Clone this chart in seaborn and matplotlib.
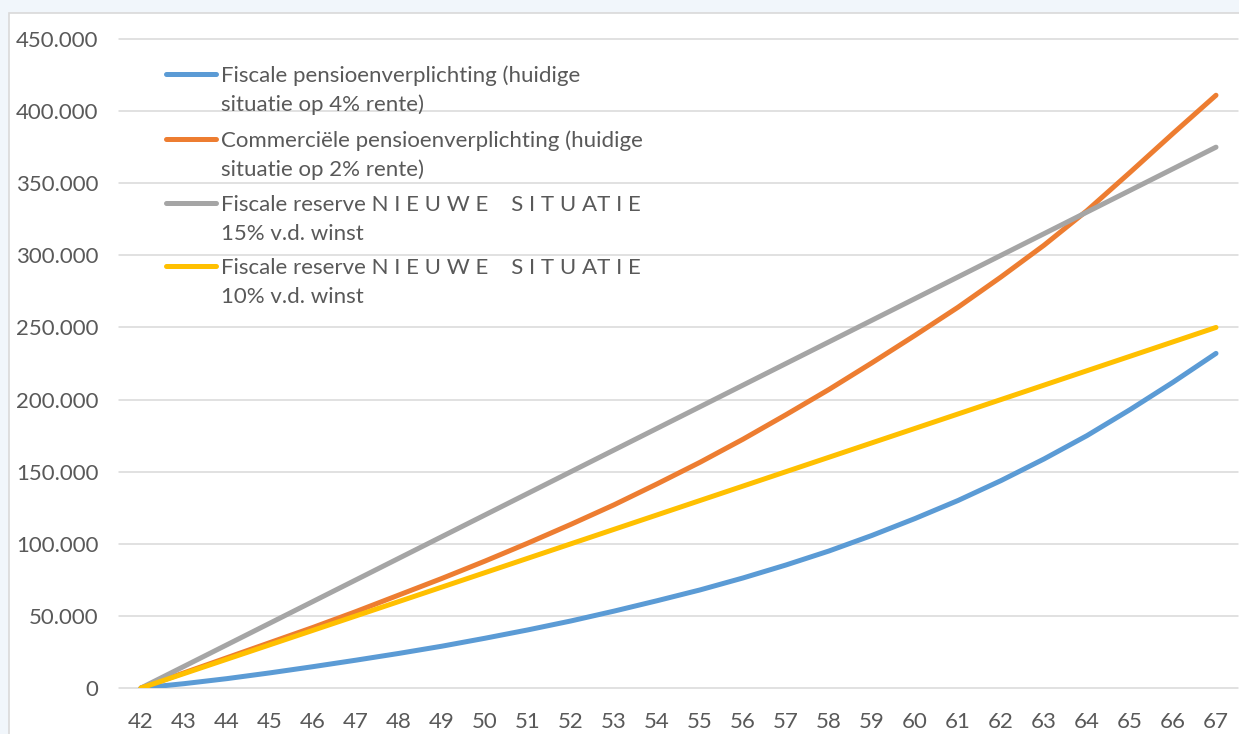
# Pension reserve chart: fiscale vs commerciele pensioenverplichting

import numpy as np
import pandas as pd
import matplotlib.pyplot as plt
import seaborn as sns
from matplotlib.patches import Rectangle
from matplotlib.ticker import FuncFormatter
from matplotlib.legend_handler import HandlerLine2D

# Data

leeftijd = list(range(42, 68))

fiscaal_4 = [0, 3000, 6500, 10500, 14800, 19300, 24000, 29000, 34500, 40300,
             46500, 53300, 60500, 68000, 76300, 85300, 95000, 105800, 117500,
             130000, 143800, 158800, 175000, 193000, 212000, 232000]

commercieel_2 = [0, 10500, 21000, 31500, 42000, 53000, 64500, 76000, 88000,
                 100500, 113500, 127000, 141500, 156500, 172500, 189500, 207000,
                 225500, 244500, 264000, 285000, 307000, 331000, 357500, 384500,
                 411000]

reserve_15 = [0, 15000, 30000, 45000, 60000, 75000, 90000, 105000, 120000,
              135000, 150000, 165000, 180000, 195000, 210000, 225000, 240000,
              255000, 270000, 285000, 300000, 315000, 330000, 345000, 360000,
              375000]

reserve_10 = [0, 10000, 20000, 30000, 40000, 50000, 60000, 70000, 80000,
              90000, 100000, 110000, 120000, 130000, 140000, 150000, 160000,
              170000, 180000, 190000, 200000, 210000, 220000, 230000, 240000,
              250000]

series_names = [
    "Fiscale pensioenverplichting (huidige\nsituatie op 4% rente)",
    "Commerciële pensioenverplichting (huidige\nsituatie op 2% rente)",
    "Fiscale reserve N I E U W E    S I T U AT I E\n15% v.d. winst",
    "Fiscale reserve N I E U W E    S I T U AT I E\n10% v.d. winst",
]

colors = ["#5B9BD5", "#ED7D31", "#A5A5A5", "#FFC000"]

y_ticks = list(range(0, 450001, 50000))

# Long-form table for seaborn

df = pd.concat([
    pd.DataFrame({"leeftijd": leeftijd, "waarde": vals, "reeks": name})
    for name, vals in zip(series_names, [fiscaal_4, commercieel_2, reserve_15, reserve_10])
])

# Style

sns.set_style("white")
plt.rcParams['font.family'] = ['Lato', 'DejaVu Sans']
text_color = "#595959"

fig = plt.figure(figsize=(12.39, 7.34), dpi=100)
fig.patch.set_facecolor("white")

# light slide background strip + chart border
fig.add_artist(Rectangle((0, 0), 1, 1, transform=fig.transFigure,
                         facecolor="#F1F6FB", edgecolor="none", zorder=-3))
fig.add_artist(Rectangle((9 / 1239, -0.1), 1.2, (734 - 13) / 734 + 0.1,
                         transform=fig.transFigure, facecolor="white",
                         edgecolor="#D9D9D9", lw=1.2, zorder=-2))

ax = fig.add_axes([119.5 / 1239, (734 - 688) / 734,
                   (1237.5 - 119.5) / 1239, (688 - 39) / 734])
ax.set_facecolor("none")

sns.lineplot(data=df, x="leeftijd", y="waarde", hue="reeks",
             palette=colors, linewidth=3.6, legend=False, ax=ax,
             solid_capstyle="round")

ax.set_xlim(41.5, 67.5)
ax.set_ylim(0, 450000)
ax.set_xticks(leeftijd)
ax.set_yticks(y_ticks)
ax.yaxis.set_major_formatter(FuncFormatter(lambda v, p: f"{v:,.0f}".replace(",", ".")))
ax.set_xlabel("")
ax.set_ylabel("")

ax.yaxis.grid(True, color="#D9D9D9", linewidth=1.1)
ax.xaxis.grid(False)
ax.set_axisbelow(True)
for gl in ax.get_ygridlines():
    gl.set_clip_on(False)

for s in ax.spines.values():
    s.set_visible(False)

ax.tick_params(axis="both", length=0, labelsize=16, labelcolor=text_color)
ax.tick_params(axis="y", pad=15)
ax.tick_params(axis="x", pad=17)


# legend handle next to the first text line
class TopLine(HandlerLine2D):
    def create_artists(self, legend, orig_handle, xdescent, ydescent,
                       width, height, fontsize, trans):
        arts = super().create_artists(legend, orig_handle, xdescent, ydescent,
                                      width, height, fontsize, trans)
        for a in arts:
            y = a.get_ydata()
            a.set_ydata(np.asarray(y) + 12)
        return arts


leg = ax.legend(handles=ax.lines[:4], labels=series_names,
                loc="upper left", bbox_to_anchor=(0.042, 0.96),
                frameon=False, fontsize=16, labelcolor=text_color,
                handlelength=2.25, handletextpad=0.2, labelspacing=0.66,
                borderpad=0, borderaxespad=0,
                handler_map={plt.Line2D: TopLine()})
for t in leg.get_texts():
    t.set_linespacing(1.55)

plt.savefig("out.png", dpi=100, facecolor=fig.get_facecolor())
